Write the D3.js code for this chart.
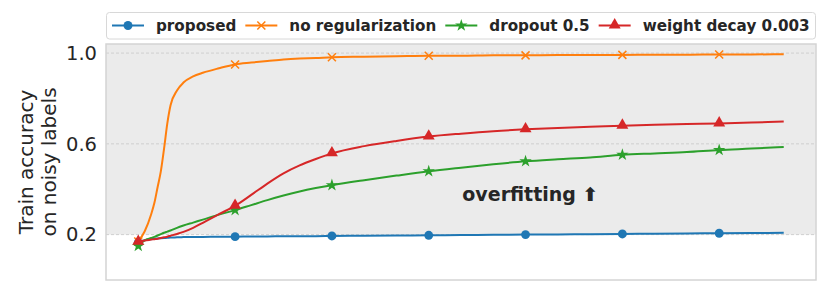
<!DOCTYPE html>
<html lang="en">
<head>
<meta charset="UTF-8">
<script src="https://d3js.org/d3.v7.min.js"></script>
<title>Train accuracy</title>
<style>
    body { margin: 0; background: #fff; }
    text { font-family: "DejaVu Sans", sans-serif; fill: #262626; }
</style>
</head>
<body>
<div id="chart"></div>
<script>

    // epochs and train accuracy
    var epochs = [0, 2, 4, 5, 6, 7, 8, 9, 10, 12, 14, 17, 20, 25, 30, 35, 40, 45, 50, 55, 60,
                  70, 80, 90, 100, 110, 120, 130, 140, 150, 160, 170, 180, 190, 200];

    var proposed = [0.165, 0.175, 0.18, 0.182, 0.183, 0.184, 0.185, 0.186, 0.187, 0.188, 0.189, 0.19, 0.19,
                    0.191, 0.191, 0.192, 0.192, 0.193, 0.193, 0.193, 0.194,
                    0.195, 0.196, 0.197, 0.198, 0.199, 0.200, 0.201, 0.202, 0.203, 0.204, 0.205, 0.206, 0.207, 0.208];

    var noReg = [0.17, 0.215, 0.29, 0.34, 0.41, 0.48, 0.58, 0.69, 0.77, 0.835, 0.87, 0.897, 0.913,
                 0.933, 0.950, 0.958, 0.965, 0.972, 0.976, 0.978, 0.982,
                 0.984, 0.986, 0.988, 0.988, 0.990, 0.990, 0.991, 0.992, 0.992, 0.993, 0.993, 0.994, 0.994, 0.995];

    var dropout = [0.15, 0.175, 0.185, 0.19, 0.196, 0.202, 0.208, 0.213, 0.218, 0.23, 0.24, 0.253, 0.266,
                   0.288, 0.308, 0.33, 0.352, 0.372, 0.39, 0.405, 0.418,
                   0.44, 0.46, 0.479, 0.495, 0.51, 0.523, 0.532, 0.54, 0.552, 0.558, 0.564, 0.573, 0.579, 0.586];

    var weightDecay = [0.168, 0.174, 0.178, 0.18, 0.182, 0.185, 0.188, 0.191, 0.195, 0.203, 0.212, 0.23, 0.252,
                       0.29, 0.327, 0.375, 0.425, 0.47, 0.505, 0.533, 0.558,
                       0.59, 0.613, 0.632, 0.645, 0.656, 0.664, 0.670, 0.675, 0.680, 0.684, 0.687, 0.690, 0.694, 0.698];

    var markEpochs = [0, 30, 60, 90, 120, 150, 180];
    var yTicks = [0.2, 0.6, 1.0];
    var yTickLabels = ["0.2", "0.6", "1.0"];

    var series = [
        {name: "proposed", values: proposed, color: "#1f77b4", marker: "circle"},
        {name: "no regularization", values: noReg, color: "#ff7f0e", marker: "x"},
        {name: "dropout 0.5", values: dropout, color: "#2ca02c", marker: "star"},
        {name: "weight decay 0.003", values: weightDecay, color: "#d62728", marker: "triangle"}
    ];

    var W = 830, H = 295;
    var margin = {top: 44, right: 14, bottom: 15, left: 106};

    var svg = d3.select("#chart").append("svg")
        .attr("width", W)
        .attr("height", H);

    var x = d3.scaleLinear().domain([-10, 210]).range([margin.left, W - margin.right]);
    var y = d3.scaleLinear().domain([0, 1.04]).range([H - margin.bottom, margin.top]);

    // overfitting band
    svg.append("rect")
        .attr("x", x(-10))
        .attr("y", y(1.04))
        .attr("width", x(210) - x(-10))
        .attr("height", y(0.2) - y(1.04))
        .attr("fill", "#ebebeb");

    // grid
    svg.append("g").selectAll("line")
        .data(yTicks)
        .enter().append("line")
        .attr("x1", x(-10)).attr("x2", x(210))
        .attr("y1", function(d) { return y(d); })
        .attr("y2", function(d) { return y(d); })
        .attr("stroke", "#cfcfcf")
        .attr("stroke-width", 1)
        .attr("stroke-dasharray", "3,2");

    // frame
    svg.append("rect")
        .attr("x", x(-10)).attr("y", y(1.04))
        .attr("width", x(210) - x(-10))
        .attr("height", y(0) - y(1.04))
        .attr("fill", "none")
        .attr("stroke", "#d4d4d4")
        .attr("stroke-width", 1.5);

    // y axis
    var yAxis = svg.append("g")
        .attr("transform", "translate(" + x(-10) + ",0)")
        .call(d3.axisLeft(y)
            .tickValues(yTicks)
            .tickFormat(function(d, i) { return yTickLabels[i]; })
            .tickSize(0)
            .tickPadding(9));
    yAxis.select(".domain").remove();
    yAxis.selectAll("text")
        .style("font-family", "DejaVu Sans, sans-serif")
        .style("font-size", "19.5px")
        .attr("fill", "#262626");

    svg.append("text")
        .attr("transform", "translate(33," + y(0.52) + ") rotate(-90)")
        .attr("text-anchor", "middle")
        .style("font-size", "20px")
        .text("Train accuracy");
    svg.append("text")
        .attr("transform", "translate(56," + y(0.52) + ") rotate(-90)")
        .attr("text-anchor", "middle")
        .style("font-size", "20px")
        .text("on noisy labels");

    // marker drawing helper
    function drawMarker(g, type, color) {
        if (type === "circle") {
            g.append("path").attr("d", d3.symbol().type(d3.symbolCircle).size(62)())
                .attr("fill", color);
        } else if (type === "x") {
            g.append("path").attr("d", "M-4,-4L4,4M-4,4L4,-4")
                .attr("stroke", color).attr("stroke-width", 1.5).attr("fill", "none");
        } else if (type === "star") {
            g.append("path").attr("d", d3.symbol().type(d3.symbolStar).size(48)())
                .attr("fill", color);
        } else {
            g.append("path").attr("d", d3.symbol().type(d3.symbolTriangle).size(62)())
                .attr("transform", "translate(0,-0.5)")
                .attr("fill", color);
        }
    }

    var line = d3.line()
        .x(function(d) { return x(d[0]); })
        .y(function(d) { return y(d[1]); })
        .curve(d3.curveMonotoneX);

    series.forEach(function(s) {
        var pts = epochs.map(function(e, i) { return [e, s.values[i]]; });
        svg.append("path")
            .datum(pts)
            .attr("fill", "none")
            .attr("stroke", s.color)
            .attr("stroke-width", 2)
            .attr("d", line);
        pts.filter(function(p) { return markEpochs.indexOf(p[0]) >= 0; })
            .forEach(function(p) {
                var g = svg.append("g")
                    .attr("transform", "translate(" + x(p[0]) + "," + y(p[1]) + ")");
                drawMarker(g, s.marker, s.color);
            });
    });

    svg.append("text")
        .attr("x", x(121.5))
        .attr("y", y(0.35))
        .attr("text-anchor", "middle")
        .style("font-size", "19px")
        .style("font-weight", "bold")
        .text("overfitting \u2B06");

    // legend
    var legend = svg.append("g");
    legend.append("rect")
        .attr("x", 106.5).attr("y", 12.5)
        .attr("width", 709).attr("height", 26.5)
        .attr("rx", 3)
        .attr("fill", "#fff")
        .attr("stroke", "#d8d8d8")
        .attr("stroke-width", 1);

    var lx = 112;
    series.forEach(function(s) {
        legend.append("line")
            .attr("x1", lx).attr("x2", lx + 32)
            .attr("y1", 25.5).attr("y2", 25.5)
            .attr("stroke", s.color).attr("stroke-width", 2);
        drawMarker(legend.append("g").attr("transform", "translate(" + (lx + 16) + ",25.5)"), s.marker, s.color);
        var t = legend.append("text")
            .attr("x", lx + 44)
            .attr("y", 31)
            .style("font-size", "15.2px")
            .style("font-weight", "bold")
            .text(s.name);
        lx = lx + 44 + t.node().getComputedTextLength() + 9;
    });

</script>
</body>
</html>
